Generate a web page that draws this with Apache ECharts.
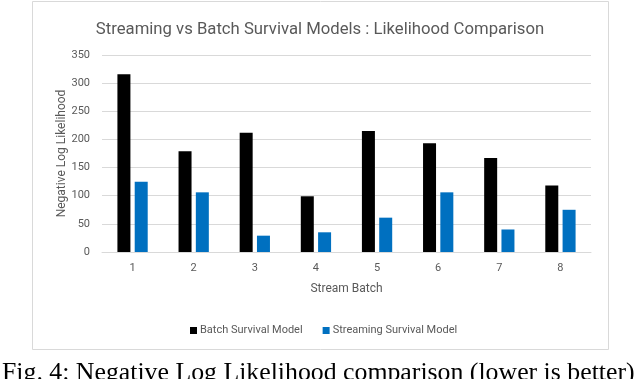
<!DOCTYPE html>
<html>
<head>
<meta charset="utf-8">
<script src="https://cdn.jsdelivr.net/npm/echarts@6/dist/echarts.min.js"></script>
<style>
html,body{margin:0;padding:0;background:#fff;}
#chart{width:640px;height:379px;}
</style>
</head>
<body>
<div id="chart"></div>
<script>
const categories = ['1','2','3','4','5','6','7','8'];
const batchValues = [316, 179, 212, 99, 215, 193, 167, 118];
const streamingValues = [125, 106, 29, 35, 61, 106, 40, 75];
const seriesNames = ['Batch Survival Model', 'Streaming Survival Model'];
const titleText = 'Streaming vs Batch Survival Models : Likelihood Comparison';
const captionText = 'Fig. 4: Negative Log Likelihood comparison (lower is better)';

const font = 'Roboto, "Open Sans", sans-serif';
const chart = echarts.init(document.getElementById('chart'), null, {renderer:'canvas'});
chart.setOption({
  backgroundColor: '#ffffff',
  animation: false,
  title: {
    text: titleText,
    left: 315, top: 16, textAlign: 'center',
    textStyle: {fontFamily: font, fontSize: 16.7, fontWeight: 'normal', color: '#595959'}
  },
  legend: {
    data: seriesNames,
    left: 185, top: 320,
    icon: 'rect', itemWidth: 7, itemHeight: 7, itemGap: 20,
    textStyle: {fontFamily: font, fontSize: 11, color: '#595959', padding:[0,0,0,-2]}
  },
  grid: {left: 102, right: 49, top: 55, bottom: 127},
  xAxis: {
    type: 'category', data: categories,
    name: 'Stream Batch', nameLocation: 'middle', nameGap: 31,
    nameTextStyle: {fontFamily: font, fontSize: 12, color: '#595959'},
    axisLine: {lineStyle: {color: '#D9D9D9', width: 1}},
    axisTick: {show: false},
    axisLabel: {fontFamily: font, fontSize: 11, color: '#595959', margin: 11}
  },
  yAxis: {
    type: 'value', min: 0, max: 350, interval: 50,
    name: 'Negative Log Likelihood', nameLocation: 'middle', nameGap: 34, nameRotate: 90,
    nameMoveOverlap: false,
    nameTextStyle: {fontFamily: font, fontSize: 12, color: '#595959'},
    axisLine: {show: false}, axisTick: {show: false},
    axisLabel: {fontFamily: font, fontSize: 11, color: '#595959', margin: 12},
    splitLine: {lineStyle: {color: '#D9D9D9', width: 1}}
  },
  series: [
    {name: seriesNames[0], type: 'bar', data: batchValues, barWidth: 13, barGap: '33%',
     itemStyle: {color: '#000000'}},
    {name: seriesNames[1], type: 'bar', data: streamingValues, barWidth: 13,
     itemStyle: {color: '#0070C0'}}
  ],
  graphic: [
    {type: 'rect', shape: {x: 32.5, y: 1.5, width: 576, height: 348},
     style: {fill: 'none', stroke: '#D9D9D9', lineWidth: 1}, z: -1, silent: true},
    {type: 'text', left: 2, top: 360,
     style: {text: captionText, fontFamily: '"Liberation Serif", "DejaVu Serif", serif', fontSize: 25.8, fill: '#000'}}
  ]
});
</script>
</body>
</html>
